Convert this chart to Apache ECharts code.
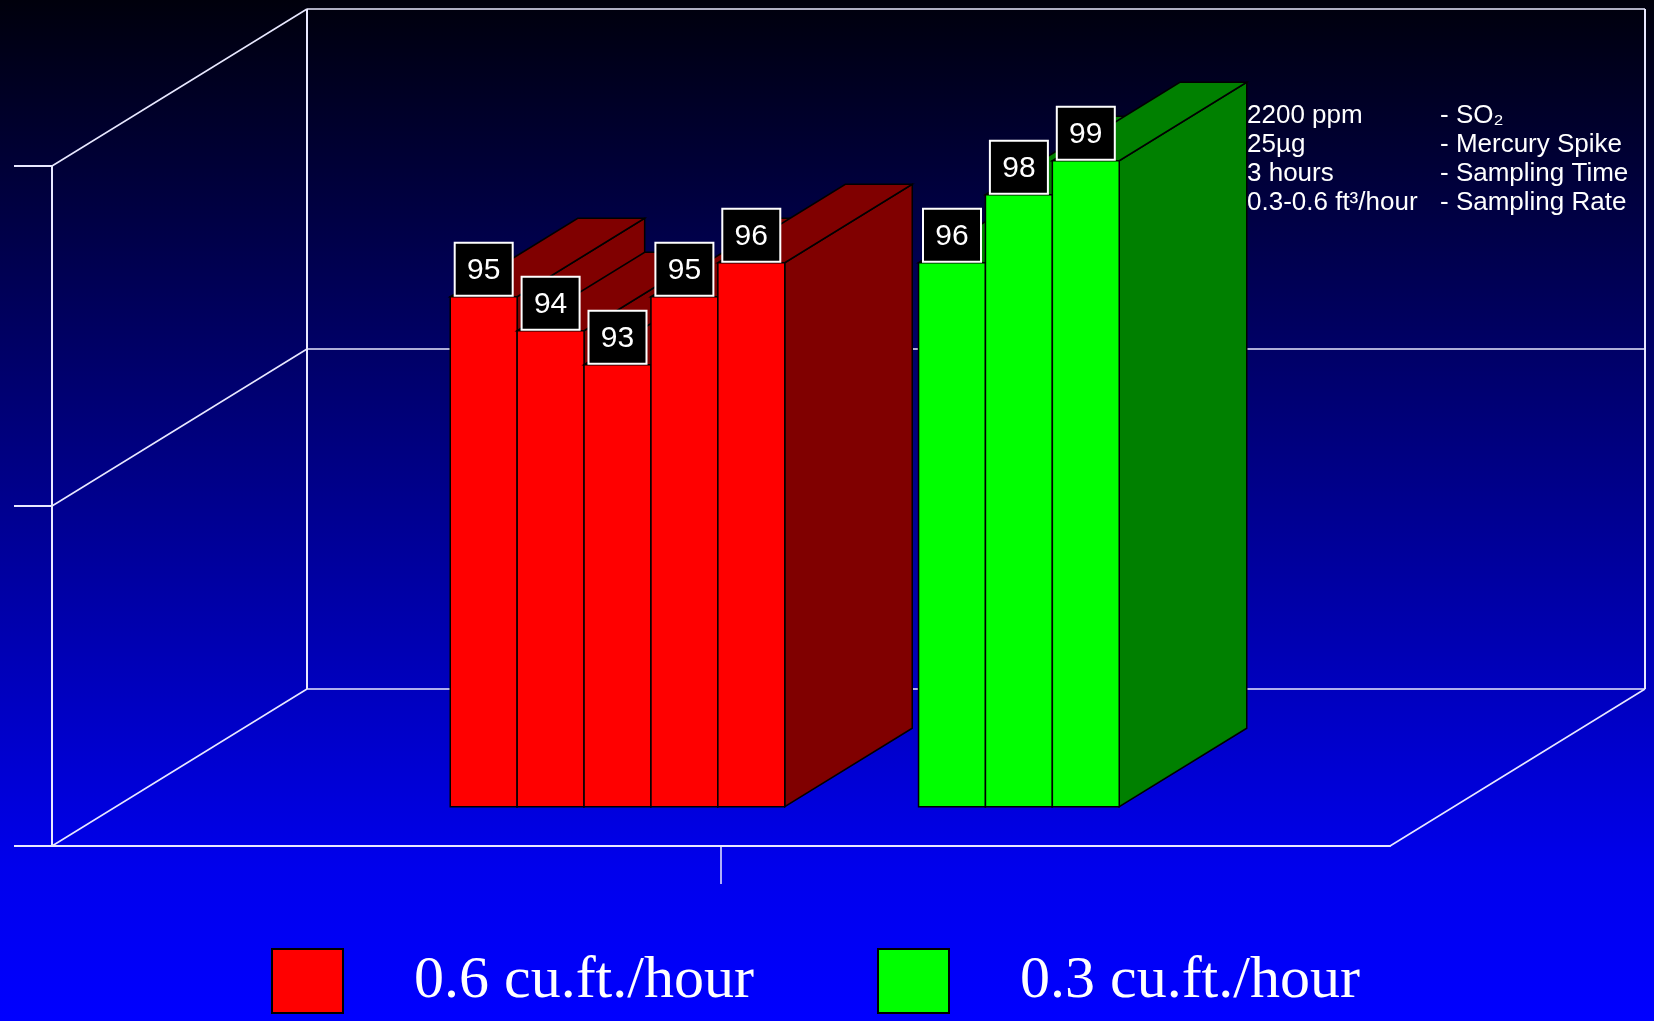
<!DOCTYPE html>
<html><head><meta charset="utf-8">
<script src="https://cdn.jsdelivr.net/npm/echarts@6/dist/echarts.min.js"></script>
<style>html,body{margin:0;padding:0;background:#000;} #chart{width:1654px;height:1021px;}</style>
</head><body><div id="chart"></div>
<script>
// ---- data ----
const categories = ['', ''];
const redValues = [95, 94, 93, 95, 96];
const greenValues = [96, 98, 99];
const seriesNames = ['0.6 cu.ft./hour', '0.3 cu.ft./hour'];
const yMin = 80, yMax = 100, yStep = 10;
const yTicks = [80, 90, 100];
const noteLabels = ['2200 ppm', '25µg', '3 hours', '0.3-0.6 ft³/hour'];
const noteTexts = ['- SO₂', '- Mercury Spike', '- Sampling Time', '- Sampling Rate'];

// ---- layout / style ----
const DEPTH = [255, -157];        // oblique depth vector of the whole floor
const BAR_DEPTH = [0.25, 0.75];   // bars occupy this fraction of depth
const SLOTS = 10;                 // bar slots per category band
const GROUP_START = [5, 2];       // first slot used by each group
const FRONT = ['#ff0000', '#00ff00'];
const SHADE = ['#800000', '#008000'];
const LINE = '#e8e8ff';

const chart = echarts.init(document.getElementById('chart'));

function barRenderer(g) {
  return function (params, api) {
    const cat = api.value(0), val = api.value(1), idx = api.value(2);
    const base = api.coord([cat, yMin]);
    const top = api.coord([cat, val]);
    const bw = api.size([1, 0])[0];
    const sw = bw / SLOTS;
    const x0 = base[0] - bw / 2 + (GROUP_START[g] + idx) * sw;
    const x1 = x0 + sw;
    const ox = DEPTH[0] * BAR_DEPTH[0], oy = DEPTH[1] * BAR_DEPTH[0];
    const ex = DEPTH[0] * (BAR_DEPTH[1] - BAR_DEPTH[0]), ey = DEPTH[1] * (BAR_DEPTH[1] - BAR_DEPTH[0]);
    const yb = base[1] + oy, yt = top[1] + oy;
    const L = x0 + ox, R = x1 + ox;
    const edge = { stroke: '#000', lineWidth: 1.5 };
    const cx = (L + R) / 2;
    return {
      type: 'group',
      children: [
        { type: 'polygon', shape: { points: [[R, yt], [R + ex, yt + ey], [R + ex, yb + ey], [R, yb]] },
          style: Object.assign({ fill: SHADE[g] }, edge) },
        { type: 'polygon', shape: { points: [[L, yt], [L + ex, yt + ey], [R + ex, yt + ey], [R, yt]] },
          style: Object.assign({ fill: SHADE[g] }, edge) },
        { type: 'rect', shape: { x: L, y: yt, width: R - L, height: yb - yt },
          style: Object.assign({ fill: FRONT[g] }, edge) },
        { type: 'rect', z2: 20, shape: { x: cx - 29, y: yt - 54, width: 58, height: 53 },
          style: { fill: '#000', stroke: '#ffffff', lineWidth: 2 } },
        { type: 'text', z2: 21, x: cx, y: yt - 26,
          style: { text: String(val), fill: '#ffffff', font: '30px "Liberation Sans"', align: 'center', verticalAlign: 'middle' } }
      ]
    };
  };
}

function frameRenderer(params, api) {
  const bw = api.size([1, 0])[0];
  const left = api.coord([0, yMin])[0] - bw / 2;
  const right = api.coord([categories.length - 1, yMin])[0] + bw / 2;
  const mid = api.coord([0, yMin])[0] + bw / 2;
  const ys = yTicks.map(v => api.coord([0, v])[1]);
  const dx = DEPTH[0], dy = DEPTH[1];
  const lines = [];
  const seg = (a, b, w) => lines.push({ type: 'line', shape: { x1: a[0], y1: a[1], x2: b[0], y2: b[1] },
    style: { stroke: LINE, lineWidth: w || 1.5 } });
  // back wall
  ys.forEach(y => {
    seg([left + dx, y + dy], [right + dx, y + dy]);
    seg([left, y], [left + dx, y + dy]);
  });
  seg([left + dx, ys[0] + dy], [left + dx, ys[ys.length - 1] + dy], 2);
  seg([right + dx, ys[0] + dy], [right + dx, ys[ys.length - 1] + dy], 2);
  // floor right edge
  seg([right, ys[0]], [right + dx, ys[0] + dy]);
  // category divider tick
  seg([mid, ys[0]], [mid, ys[0] + 38], 1.5);
  return { type: 'group', children: lines };
}

const option = {
  backgroundColor: {
    type: 'linear', x: 0, y: 0, x2: 0, y2: 1,
    colorStops: [
      { offset: 0, color: '#00000c' },
      { offset: 0.5, color: '#000090' },
      { offset: 0.85, color: '#0000ec' },
      { offset: 1, color: '#0000ff' }
    ]
  },
  animation: false,
  grid: { left: 52, top: 166, width: 1338, height: 680 },
  xAxis: {
    type: 'category', data: categories, boundaryGap: true,
    axisLine: { show: true, lineStyle: { color: LINE, width: 2 } },
    axisTick: { show: false }, axisLabel: { show: false }, splitLine: { show: false }
  },
  yAxis: {
    type: 'value', min: yMin, max: yMax, interval: yStep,
    axisLine: { show: true, lineStyle: { color: LINE, width: 2 } },
    axisTick: { show: true, length: 38, lineStyle: { color: LINE, width: 2 } },
    axisLabel: { show: false }, splitLine: { show: false }
  },
  legend: [0, 1].map(i => ({
    data: [seriesNames[i]], left: i === 0 ? 271 : 877, top: 940, padding: 0,
    itemWidth: 71, itemHeight: 64, icon: 'rect', selectedMode: false,
    itemStyle: { borderColor: '#000', borderWidth: 2 },
    textStyle: { color: '#ffffff', fontFamily: 'Liberation Serif', fontSize: 60, lineHeight: 64, padding: [18, 0, 0, 66] }
  })),
  graphic: noteLabels.map((t, i) => ({
    type: 'text', x: 1247, y: 116 + i * 28.8,
    style: { text: t, fill: '#ffffff', font: '26px "Liberation Sans"', verticalAlign: 'middle' }
  })).concat(noteTexts.map((t, i) => ({
    type: 'text', x: 1440, y: 116 + i * 28.8,
    style: { text: t, fill: '#ffffff', font: '26px "Liberation Sans"', verticalAlign: 'middle' }
  }))),
  series: [
    { type: 'custom', name: 'frame', z: 1, silent: true, clip: false,
      renderItem: frameRenderer, data: [[0, yMin]] },
    { type: 'custom', name: seriesNames[0], z: 2, clip: false,
      itemStyle: { color: FRONT[0] },
      renderItem: barRenderer(0), data: redValues.map((v, i) => [0, v, i]) },
    { type: 'custom', name: seriesNames[1], z: 2, clip: false,
      itemStyle: { color: FRONT[1] },
      renderItem: barRenderer(1), data: greenValues.map((v, i) => [1, v, i]) }
  ]
};
chart.setOption(option);
</script></body></html>
